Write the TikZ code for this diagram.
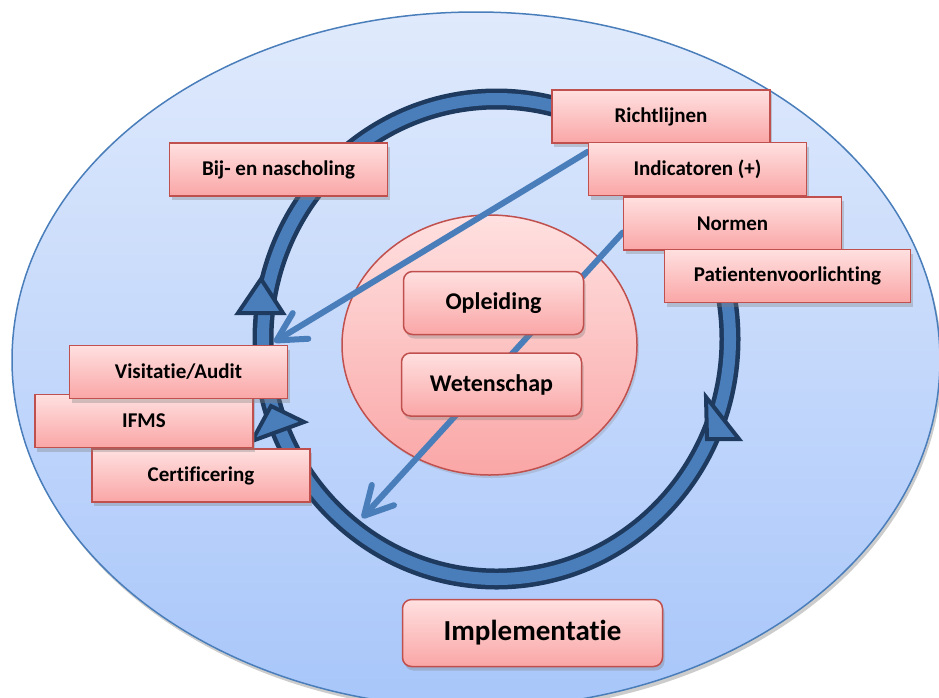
\documentclass[tikz,border=0pt]{standalone}
\usepackage{fontspec}
\setmainfont{Carlito}[Ligatures={NoCommon}]
\usetikzlibrary{arrows.meta}
\usetikzlibrary{shadows}

\definecolor{skytop}{HTML}{E0EAFC}
\definecolor{skybot}{HTML}{A8C6FA}
\definecolor{fieldline}{HTML}{4A7EBB}
\definecolor{ringdark}{HTML}{1F3A5F}
\definecolor{ringblue}{HTML}{4A7EBB}
\definecolor{feedblue}{HTML}{4A7EBB}
\definecolor{rosetop}{HTML}{FFE0E0}
\definecolor{rosebot}{HTML}{FAA6A6}
\definecolor{tagline}{HTML}{C0504D}

\newcommand\tagfont{\bfseries\fontsize{21}{25}\selectfont}
\newcommand\pillarfont{\bfseries\fontsize{24}{28}\selectfont}
\newcommand\implfont{\bfseries\fontsize{29}{34}\selectfont}

\pgfdeclarelayer{back}
\pgfdeclarelayer{mid}
\pgfsetlayers{back,mid,main}

\tikzset{
field/.style = {draw=fieldline, line width=1.5pt, top color=skytop, bottom color=skybot,
                drop shadow={shadow xshift=2pt, shadow yshift=-4pt, opacity=.4}},
core/.style = {draw=tagline, line width=1.5pt, top color=rosetop, bottom color=rosebot,
               drop shadow={shadow xshift=2pt, shadow yshift=-3pt, opacity=.25}},
tag/.style = {rectangle, draw=tagline, line width=1.5pt, top color=rosetop, bottom color=rosebot,
              minimum width=218pt, minimum height=53pt, inner sep=0pt, font=\tagfont,
              drop shadow={shadow xshift=2pt, shadow yshift=-4pt, opacity=.35}},
pillar/.style = {tag, rounded corners=9pt, minimum width=180pt, minimum height=63pt, font=\pillarfont},
turn/.style = {fill=ringblue, draw=ringdark, line width=4pt},
feed/.style = {draw=feedblue, line width=6pt, line cap=round,
               -{Straight Barb[length=28pt, width=30pt, round]}},
}

\begin{document}
\begin{tikzpicture}[x=1pt, y=-1pt]
\useasboundingbox (0,0) rectangle (939,697);

\begin{pgfonlayer}{back}
  % outer field
  \path[field] (476,360) ellipse [x radius=464, y radius=348];
  % cycle ring
  \draw[ringdark, line width=21pt] (496.5,339) ellipse [x radius=233.5, y radius=240];
  \draw[ringblue, line width=12pt] (496.5,339) ellipse [x radius=233.5, y radius=240];
  \draw[turn] (238,313) -- (283,313) -- (261,279) -- cycle;
  \draw[turn] (252,441) -- (304,422) -- (271,406) -- cycle;
  \draw[turn] (706,397) -- (739,439) -- (707,439) -- cycle;
  % inner core
  \path[core] (489.5,345) ellipse [x radius=147.5, y radius=130];
\end{pgfonlayer}

\node[tag] (richt) at (661,116.5) {Richtlijnen};
\node[tag] (indic) at (697.5,169) {Indicatoren (+)};
\node[tag] (normen) at (732.5,223.5) {Normen};
\node[tag, minimum width=246pt] (patient) at (787.5,276) {Patientenvoorlichting};
\node[tag] (bijna) at (278.5,169.5) {Bij- en nascholing};
\node[tag] (certif) at (201,475.5) {Certificering};
\node[tag] (ifms) at (144,421) {IFMS};
\node[tag] (visit) at (178.5,372) {Visitatie/Audit};
\node[pillar] (opl) at (493.5,303) {Opleiding};
\node[pillar] (wet) at (491.5,384.5) {Wetenschap};
\node[pillar, minimum width=260pt, minimum height=67pt, font=\implfont] (impl) at (532.5,633) {Implementatie};

\coordinate (auditin) at (274,342);
\coordinate (ringin) at (362,518);

\begin{pgfonlayer}{mid}
  \draw[feed] ([yshift=-10pt]indic.north west) -- (auditin);
  \draw[feed] ([yshift=-9pt]normen.west) -- (ringin);
\end{pgfonlayer}
\end{tikzpicture}
\end{document}
